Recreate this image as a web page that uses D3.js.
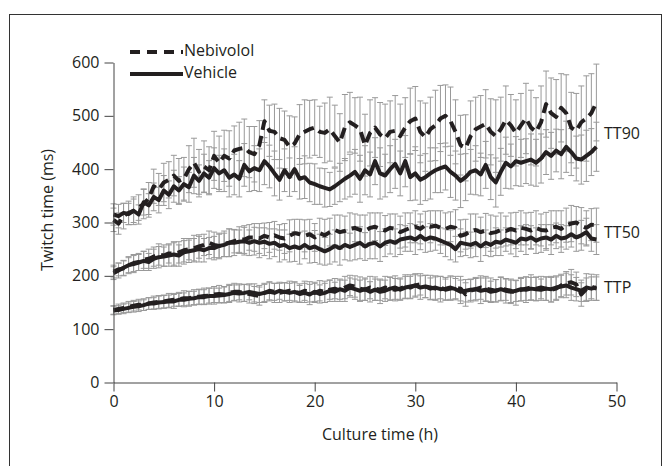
<!DOCTYPE html>
<html>
<head>
<meta charset="utf-8">
<script src="https://cdn.jsdelivr.net/npm/d3@7"></script>
<style>
  body { margin: 0; background: #fff; }
  text { font-family: "Open Sans", sans-serif; fill: #231f20; }
</style>
</head>
<body>
<script>
// Chart size
var width = 668;
var height = 466;

// Culture time (h), one reading every half hour
var hours = d3.range(0, 48.01, 0.5);

// TT90 (ms)
var veh90 = [315,312,318,316,322,315,338,332,348,342,
             360,352,368,360,372,366,388,378,392,384,
             402,392,398,384,390,382,408,396,402,398,
             415,405,392,380,398,385,400,382,385,375,
             372,368,365,362,368,375,382,388,395,382,
             398,390,415,392,388,400,410,392,415,385,
             392,380,385,392,398,402,405,395,388,378,
             385,395,398,390,408,385,375,395,412,405,
             415,412,415,418,412,420,432,425,435,428,
             442,432,420,418,425,432,442];
var veh90Err = [20,22,18,20,22,18,24,22,26,24,
                28,26,30,26,32,28,34,30,36,32,
                38,34,40,36,38,34,40,38,42,40,
                44,40,42,38,40,36,42,38,40,36,
                38,34,36,32,34,36,38,40,42,44,
                46,42,44,48,40,44,46,42,48,44,
                50,46,44,48,42,46,44,48,46,50,
                44,42,46,40,44,42,46,44,48,42,
                46,44,42,48,44,46,42,44,40,46,
                48,44,42,46,48,44,46];
var neb90 = [305,298,312,318,322,328,335,345,368,362,
             375,380,388,378,382,400,412,395,405,398,
             425,412,425,420,435,438,440,432,428,445,
             490,472,470,458,455,442,448,465,470,475,
             478,470,468,475,462,450,478,488,482,475,
             445,468,478,465,458,470,472,462,478,490,
             495,470,460,475,482,495,500,490,470,445,
             440,462,475,480,485,470,462,475,492,482,
             468,482,495,478,470,488,522,505,498,515,
             505,478,472,488,495,505,525];
var neb90Err = [22,20,24,22,26,24,28,30,32,30,
                36,34,38,42,40,44,46,42,48,44,
                46,50,48,52,46,50,54,48,52,46,
                40,48,52,56,54,58,50,56,60,54,
                52,48,56,60,58,54,62,56,52,60,
                58,62,56,60,64,58,66,60,56,62,
                60,58,64,60,66,62,58,64,60,56,
                62,66,60,58,64,62,68,60,64,58,
                62,60,66,70,64,68,62,66,70,64,
                72,66,70,68,80,74,72];

// TT50 (ms)
var veh50 = [205,210,215,220,222,225,228,226,232,235,
             236,238,240,238,244,246,248,250,248,252,
             252,256,258,262,262,264,265,262,265,262,
             264,260,262,256,258,252,255,252,258,252,
             255,250,246,250,256,252,258,254,258,262,
             255,260,262,255,262,265,262,268,270,272,
             268,275,268,272,270,266,262,258,250,262,
             260,258,262,255,262,258,264,262,268,265,
             262,270,268,272,266,270,272,268,275,270,
             272,278,272,276,282,270,268];
var veh50Err = [12,14,14,16,16,15,18,16,18,20,
                18,20,22,20,22,21,22,24,22,20,
                22,24,22,26,24,22,26,24,26,28,
                26,28,26,30,28,26,28,30,26,28,
                30,28,26,28,30,32,28,26,28,30,
                26,28,30,28,26,24,26,28,24,26,
                28,26,24,26,22,24,26,28,24,26,
                22,24,26,28,24,22,26,24,22,24,
                26,24,28,22,24,26,24,28,24,26,
                22,24,26,28,26,24,28];
var neb50 = [208,212,214,220,224,226,230,232,236,240,
             238,242,242,244,248,250,252,255,258,262,
             258,256,260,262,265,268,268,272,272,270,
             275,272,276,272,270,275,280,278,275,278,
             272,280,276,282,286,282,284,288,290,286,
             284,290,292,288,285,290,288,282,286,290,
             292,288,295,292,294,290,288,292,290,275,
             278,284,286,282,285,280,282,286,284,288,
             285,290,288,285,290,286,285,290,292,288,
             295,298,300,294,290,296,295];
var neb50Err = [12,12,14,14,16,16,16,18,18,20,
                20,18,22,20,22,20,24,22,20,22,
                24,22,24,26,22,24,26,24,26,28,
                24,28,26,24,28,30,26,28,30,28,
                26,28,30,26,28,32,28,30,26,28,
                30,28,26,30,28,26,28,30,32,28,
                30,28,26,30,28,32,30,28,34,30,
                28,32,30,28,32,34,30,32,28,30,
                34,32,30,34,32,30,34,32,30,34,
                32,34,30,34,32,30,32];

// TTP (ms)
var vehP = [135,136,138,140,142,143,145,148,148,150,
            151,152,152,155,155,157,158,160,160,162,
            162,163,164,166,168,167,168,170,168,166,
            168,170,168,172,170,168,170,166,168,165,
            170,166,168,172,170,175,172,178,175,172,
            175,170,174,170,172,176,178,174,178,180,
            182,178,180,176,178,175,176,178,175,170,
            172,174,175,172,174,170,172,175,172,170,
            172,175,174,176,175,174,176,175,178,180,
            182,178,175,172,178,176,178];
var vehPErr = [8,8,9,9,10,10,10,11,11,12,
               12,12,13,12,13,14,13,14,14,15,
               15,14,15,16,15,16,16,15,17,16,
               16,17,18,16,17,18,17,16,18,19,
               18,17,18,20,18,19,20,18,19,20,
               21,19,20,22,20,21,22,20,21,22,
               20,22,21,20,22,24,21,22,20,22,
               21,20,22,24,22,20,21,22,23,22,
               20,22,24,21,22,20,22,24,22,21,
               23,24,22,20,26,22,24];
var nebP = [136,138,140,142,144,146,146,148,150,151,
            152,154,155,156,158,158,160,161,162,163,
            165,166,165,168,170,170,168,166,164,162,
            168,172,170,168,170,172,170,168,172,170,
            168,172,170,174,176,172,178,182,180,176,
            174,178,176,174,178,176,174,176,180,178,
            182,184,180,178,176,178,174,176,178,176,
            165,172,175,178,176,174,172,176,174,172,
            168,174,176,178,176,178,176,174,176,182,
            186,188,184,165,175,180,176];
var nebPErr = [8,9,9,10,10,10,11,11,12,12,
               12,13,12,13,14,13,14,14,15,14,
               15,16,15,16,16,15,16,17,16,17,
               18,17,16,18,17,18,19,17,18,19,
               18,19,20,18,19,20,21,19,20,22,
               20,21,22,20,21,22,21,20,22,21,
               22,20,21,23,22,21,20,22,21,23,
               22,21,20,22,23,22,21,22,20,22,
               23,21,22,24,22,21,22,23,22,21,
               22,24,23,22,21,23,22];

// Series labels on the right, placed at these values
var seriesLabels = ["TT90", "TT50", "TTP"];
var labelValues = [464, 279, 175];

var xTicks = [0, 10, 20, 30, 40, 50];
var yTicks = [0, 100, 200, 300, 400, 500, 600];

var series = [
  {mean: veh90, err: veh90Err, dashed: false},
  {mean: neb90, err: neb90Err, dashed: true},
  {mean: veh50, err: veh50Err, dashed: false},
  {mean: neb50, err: neb50Err, dashed: true},
  {mean: vehP, err: vehPErr, dashed: false},
  {mean: nebP, err: nebPErr, dashed: true}
];

var svg = d3.select('body')
    .append('svg')
    .attr('width', width)
    .attr('height', height);

// Frame round the figure (runs off the bottom)
svg.append('rect')
    .attr('x', 9.5)
    .attr('y', 14.5)
    .attr('width', 652)
    .attr('height', 470)
    .attr('fill', 'none')
    .attr('stroke', '#333')
    .attr('stroke-width', 1);

var xScale = d3.scaleLinear()
    .domain([0, 50])
    .range([113.5, 616.5]);

var yScale = d3.scaleLinear()
    .domain([0, 600])
    .range([382.5, 62.5]);

// Error bars first, lines drawn over them
series.forEach(function(s){
    var g = svg.append('g')
        .attr('stroke', '#999')
        .attr('stroke-width', 1);
    hours.forEach(function(h, i){
        var x = xScale(h);
        var top = yScale(s.mean[i] + s.err[i]);
        var bot = yScale(s.mean[i] - s.err[i]);
        g.append('line').attr('x1', x).attr('x2', x).attr('y1', top).attr('y2', bot);
        g.append('line').attr('x1', x - 3).attr('x2', x + 3).attr('y1', top).attr('y2', top);
        g.append('line').attr('x1', x - 3).attr('x2', x + 3).attr('y1', bot).attr('y2', bot);
    });
});

var line = d3.line()
    .x(function(d, i){ return xScale(hours[i]); })
    .y(function(d){ return yScale(d); });

series.forEach(function(s){
    svg.append('path')
        .datum(s.mean)
        .attr('d', line)
        .attr('fill', 'none')
        .attr('stroke', '#231f20')
        .attr('stroke-width', 4)
        .attr('stroke-linejoin', 'round')
        .attr('stroke-dasharray', s.dashed ? '11,6' : null);
});

// Axes
var xAxis = d3.axisBottom(xScale)
    .tickValues(xTicks)
    .tickSize(9)
    .tickPadding(4)
    .tickSizeOuter(0);
var xAxisGroup = svg.append('g')
    .attr('transform', 'translate(0,382.5)')
    .call(xAxis);

var yAxis = d3.axisLeft(yScale)
    .tickValues(yTicks)
    .tickSize(9)
    .tickPadding(5)
    .tickSizeOuter(0);
var yAxisGroup = svg.append('g')
    .attr('transform', 'translate(113.5,0)')
    .call(yAxis);

[xAxisGroup, yAxisGroup].forEach(function(g){
    g.select('.domain').attr('stroke', '#444');
    g.selectAll('.tick line').attr('stroke', '#444');
    g.selectAll('.tick text')
        .attr('font-size', 16)
        .attr('font-family', '"Open Sans", sans-serif')
        .attr('fill', '#231f20');
});

// Axis titles
svg.append('text')
    .attr('x', 380)
    .attr('y', 440)
    .attr('text-anchor', 'middle')
    .attr('font-size', 16)
    .text('Culture time (h)');

svg.append('text')
    .attr('x', -210)
    .attr('y', 53)
    .attr('text-anchor', 'middle')
    .attr('font-size', 16)
    .attr('transform', 'rotate(-90)')
    .text('Twitch time (ms)');

// Series labels
svg.selectAll('.slabel')
    .data(seriesLabels)
    .enter()
    .append('text')
    .attr('class', 'slabel')
    .attr('x', 604)
    .attr('y', function(d, i){ return yScale(labelValues[i]); })
    .attr('dominant-baseline', 'middle')
    .attr('font-size', 16)
    .text(function(d){ return d; });

// Legend
var legend = [{name: 'Nebivolol', dashed: true, y: 52}, {name: 'Vehicle', dashed: false, y: 74}];
legend.forEach(function(l){
    svg.append('line')
        .attr('x1', 130).attr('x2', 183)
        .attr('y1', l.y).attr('y2', l.y)
        .attr('stroke', '#231f20')
        .attr('stroke-width', 4)
        .attr('stroke-dasharray', l.dashed ? '10,7' : null);
    svg.append('text')
        .attr('x', 184)
        .attr('y', l.y)
        .attr('dominant-baseline', 'middle')
        .attr('font-size', 16)
        .text(l.name);
});
</script>
</body>
</html>
